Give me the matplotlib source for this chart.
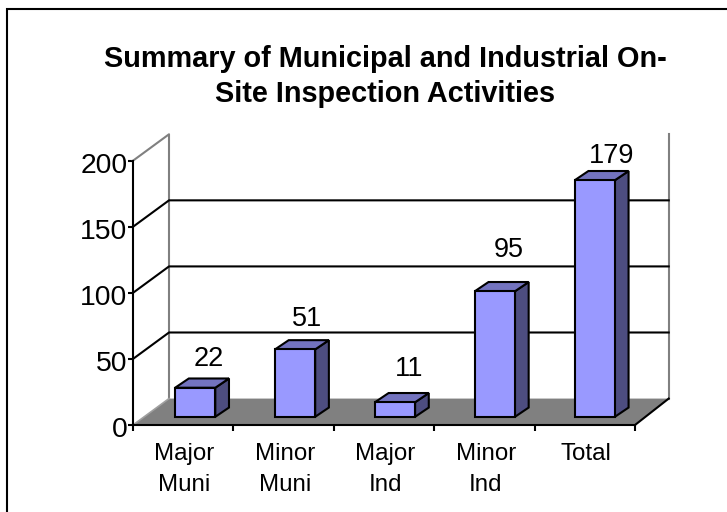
import matplotlib
matplotlib.use("Agg")
import matplotlib.pyplot as plt
from matplotlib.patches import Polygon, Rectangle
from matplotlib.transforms import ScaledTranslation

plt.rcParams['font.family'] = ['Liberation Sans', 'DejaVu Sans']

categories = ['Major\nMuni', 'Minor\nMuni', 'Major\nInd', 'Minor\nInd', 'Total']
values = [22, 51, 11, 95, 179]
y_ticks = [0, 50, 100, 150, 200]

W, H = 727, 512
LEFT, RIGHT, TOP, BOTTOM = 133, 635, 160.7, 425

# depth of the fake 3d box, in data units
DX = 36 / 100.4
DX_R = 33.7 / 100.4
DY = 20
BAR_W = 0.4
BAR_SHIFT = 12 / 100.4
BAR_STEP = 0.995
BAR_LIFT = 6.2
BAR_DX = 13.7 / 100.4
BAR_DY = 7

# label offsets from bar top, px
label_gap = [6, 8, 11, 19, 2]
label_nudge = [0, -2, 0, 0, 3]

fig = plt.figure(figsize=(W / 100, H / 100), dpi=100, facecolor='white')
ax = fig.add_axes([LEFT / W, 1 - BOTTOM / H, (RIGHT - LEFT) / W, (BOTTOM - TOP) / H])
ax.set_xlim(0, len(categories))
ax.set_ylim(0, 200)
ax.patch.set_alpha(0)

# outer chart border
fig.add_artist(Rectangle((7 / W, -0.02), 2, 1 - 9.3 / H + 0.02, transform=fig.transFigure,
                         fill=False, ec='black', lw=1.5))

n = len(categories)

# floor
ax.add_patch(Polygon([(0, 0), (n, 0), (n + DX_R, DY), (DX, DY)], fc='#808080', ec='none', zorder=1, clip_on=False))

# walls
ax.plot([0, DX, DX], [200, 200 + DY, DY], color='#808080', lw=1.5, zorder=2, clip_on=False)
ax.plot([0, DX], [0, DY], color='#a0a0a0', lw=1.2, zorder=2, clip_on=False)
ax.plot([n + DX_R, n + DX_R], [DY, 200 + DY], color='#808080', lw=1.5, zorder=2, clip_on=False)
ax.plot([n, n + DX_R], [0, DY], color='black', lw=1.5, zorder=2, clip_on=False)

# gridlines on back wall and side wall
for t in y_ticks[1:-1]:
    ax.plot([0, DX, n + DX_R], [t, t + DY, t + DY], color='black', lw=1.5, zorder=2, clip_on=False)

# bars
for i, v in enumerate(values):
    x0 = i * BAR_STEP + 0.5 - BAR_W / 2 + BAR_SHIFT
    x1 = x0 + BAR_W
    y0 = BAR_LIFT
    y1 = y0 + v
    ax.add_patch(Polygon([(x1, y0), (x1 + BAR_DX, y0 + BAR_DY), (x1 + BAR_DX, y1 + BAR_DY), (x1, y1)],
                         fc='#4d4d80', ec='black', lw=1.5, zorder=3, clip_on=False, joinstyle='miter'))
    ax.add_patch(Polygon([(x0, y1), (x1, y1), (x1 + BAR_DX, y1 + BAR_DY), (x0 + BAR_DX, y1 + BAR_DY)],
                         fc='#7373bf', ec='black', lw=1.5, zorder=3, clip_on=False, joinstyle='miter'))
    ax.add_patch(Rectangle((x0, y0), BAR_W, v, fc='#9999ff', ec='black', lw=1.5, zorder=4, clip_on=False))
    ax.annotate(str(v), (x0 + BAR_W / 2 + BAR_DX, y1 + BAR_DY),
                xytext=(label_nudge[i] * 0.72, label_gap[i] * 0.72), textcoords='offset points',
                ha='center', va='bottom', fontsize=19.5, color='black', zorder=5, annotation_clip=False)

for s in ['top', 'right']:
    ax.spines[s].set_visible(False)
for s in ['left', 'bottom']:
    ax.spines[s].set_linewidth(1.5)
    ax.spines[s].set_zorder(6)

ax.set_yticks(y_ticks)
ax.tick_params(axis='y', length=3.5, width=1.5, labelsize=20.4, pad=0.5)
for lbl in ax.get_yticklabels():
    lbl.set_transform(lbl.get_transform() + ScaledTranslation(0, -2 / 100, fig.dpi_scale_trans))
ax.set_xticks(range(n + 1))
ax.set_xticklabels([])
ax.tick_params(axis='x', length=4.5, width=1.5)
for i, c in enumerate(categories):
    ax.annotate(c, (i + 0.5, 0), xytext=(1, -13), textcoords='offset points', ha='center', va='top',
                fontsize=17.4, linespacing=1.5, annotation_clip=False)

fig.text(385 / W, 1 - 76.5 / H, 'Summary of Municipal and Industrial On-\nSite Inspection Activities',
         ha='center', va='center', fontsize=20.8, fontweight='bold', linespacing=1.3)

fig.savefig('out.png', dpi=100)
